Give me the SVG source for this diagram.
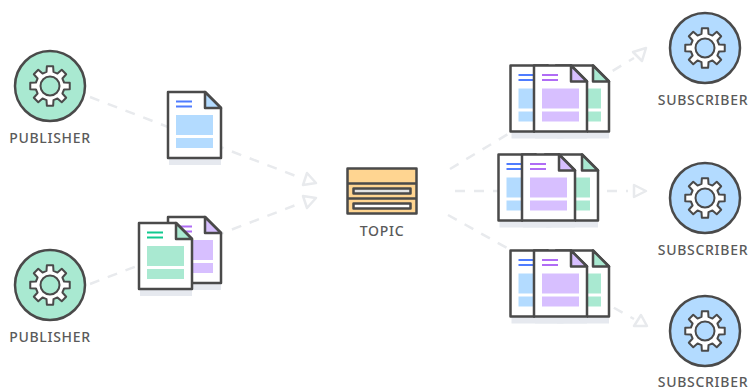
<svg xmlns="http://www.w3.org/2000/svg" width="748" height="390" viewBox="0 0 748 390">
<style>
.o{stroke:#4a4a4a;stroke-width:2.5;stroke-linejoin:round}
.g{stroke:#4a4a4a;stroke-width:2;stroke-linejoin:round}
.t{font-family:"Noto Sans","Liberation Sans",sans-serif;font-size:14px;font-weight:500;fill:#5a5a5a;text-anchor:middle;letter-spacing:.7px}
.c{stroke:#e8eaed;stroke-width:2.5;stroke-dasharray:10 9;fill:none}
.a{stroke:#e8eaed;stroke-width:2.5;fill:#fff;stroke-linejoin:round}
</style>
<defs>
<g id="gear"><path class="g" fill="#fff" d="M-3.5-14.07-3.13-19.75 3.13-19.75 3.5-14.07 7.47-12.42 11.75-16.18 16.18-11.75 12.42-7.47 14.07-3.5 19.75-3.13 19.75 3.13 14.07 3.5 12.42 7.47 16.18 11.75 11.75 16.18 7.47 12.42 3.5 14.07 3.13 19.75-3.13 19.75-3.5 14.07-7.47 12.42-11.75 16.18-16.18 11.75-12.42 7.47-14.07 3.5-19.75 3.13-19.75-3.13-14.07-3.5-12.42-7.47-16.18-11.75-11.75-16.18-7.47-12.42Z"/></g>
<g id="docbase"><rect x="1" y="66" width="52" height="7" fill="#e6e9ef"/><path class="o" fill="#fff" d="M0 0H37L53 16V66H0Z"/></g>
<g id="doc-blue"><use href="#docbase"/><path class="o" fill="#b3dbff" d="M37 0L53 16H37Z"/><path d="M8 9.500H24M8 14.500H24" stroke="#4f7cff" stroke-width="2"/><rect x="8" y="23" width="37" height="20" fill="#b3dbff"/><rect x="8" y="46" width="37" height="10" fill="#b3dbff"/></g>
<g id="doc-green"><use href="#docbase"/><path class="o" fill="#a9e9d1" d="M37 0L53 16H37Z"/><path d="M8 9.500H24M8 14.500H24" stroke="#10c98f" stroke-width="2"/><rect x="8" y="23" width="37" height="20" fill="#a9e9d1"/><rect x="8" y="46" width="37" height="10" fill="#a9e9d1"/></g>
<g id="doc-purple"><use href="#docbase"/><path class="o" fill="#d7bfff" d="M37 0L53 16H37Z"/><path d="M8 9.500H24M8 14.500H24" stroke="#b06cf5" stroke-width="2"/><rect x="8" y="23" width="37" height="20" fill="#d7bfff"/><rect x="8" y="46" width="37" height="10" fill="#d7bfff"/></g>
</defs>
<g id="connectors">
<path class="c" d="M90 97L301 178"/>
<path class="c" d="M90 284L301 203"/>
<path class="c" d="M450 169L634 58"/>
<path class="c" d="M455 191H628"/>
<path class="c" d="M448 215L634 319"/>
<path class="a" d="M316 183L303 185L307 173Z"/>
<path class="a" d="M316 198L303 196L307 208Z"/>
<path class="a" d="M646 48L633 52L642 61Z"/>
<path class="a" d="M646 191L634 185V197Z"/>
<path class="a" d="M647 326L634 326L641 315Z"/>
</g>
<g id="publisher-1"><circle class="o" cx="50" cy="86" r="35" fill="#a9e9d1"/><use href="#gear" x="50" y="86"/><circle class="g" cx="50" cy="86" r="9.500" fill="#a9e9d1"/><text class="t" x="50" y="143">PUBLISHER</text></g>
<g id="publisher-2"><circle class="o" cx="50" cy="285" r="35" fill="#a9e9d1"/><use href="#gear" x="50" y="285"/><circle class="g" cx="50" cy="285" r="9.500" fill="#a9e9d1"/><text class="t" x="50" y="342">PUBLISHER</text></g>
<g id="message-1"><use href="#doc-blue" x="168" y="92"/></g>
<g id="message-2"><use href="#doc-purple" x="168" y="217"/><use href="#doc-green" x="139" y="223"/></g>
<g id="topic"><rect class="o" x="347.500" y="168.500" width="69" height="45" fill="#ffd591"/><path class="o" d="M347.500 183.500H416.500M347.500 198.500H416.500" fill="none"/><rect class="o" x="353.500" y="188.500" width="57" height="5" fill="#e3e3e3"/><rect class="o" x="353.500" y="203.500" width="57" height="5" fill="#fff"/><text class="t" x="382" y="236">TOPIC</text></g>
<g id="copies-1"><use href="#doc-blue" x="510.500" y="65.500"/><use href="#doc-green" x="556" y="65.500"/><use href="#doc-purple" x="534" y="65.500"/></g>
<g id="copies-2"><use href="#doc-blue" x="498.500" y="154.500"/><use href="#doc-green" x="545" y="154.500"/><use href="#doc-purple" x="522" y="154.500"/></g>
<g id="copies-3"><use href="#doc-blue" x="510.500" y="250.500"/><use href="#doc-green" x="556" y="250.500"/><use href="#doc-purple" x="534" y="250.500"/></g>
<g id="subscriber-1"><circle class="o" cx="705" cy="48" r="35" fill="#b3dbff"/><use href="#gear" x="705" y="48"/><circle class="g" cx="705" cy="48" r="9.500" fill="#b3dbff"/><text class="t" x="703" y="105">SUBSCRIBER</text></g>
<g id="subscriber-2"><circle class="o" cx="705" cy="198" r="35" fill="#b3dbff"/><use href="#gear" x="705" y="198"/><circle class="g" cx="705" cy="198" r="9.500" fill="#b3dbff"/><text class="t" x="703" y="255">SUBSCRIBER</text></g>
<g id="subscriber-3"><circle class="o" cx="705" cy="331" r="35" fill="#b3dbff"/><use href="#gear" x="705" y="331"/><circle class="g" cx="705" cy="331" r="9.500" fill="#b3dbff"/><text class="t" x="703" y="386.500">SUBSCRIBER</text></g>
</svg>
